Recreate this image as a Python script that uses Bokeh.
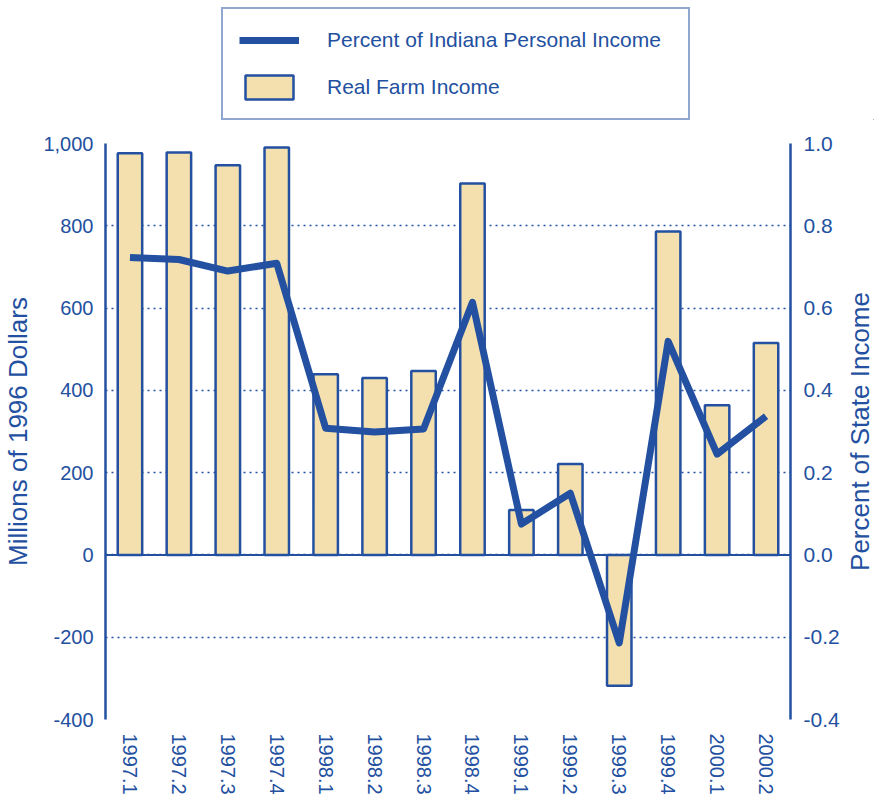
import math
from bokeh.plotting import figure
from bokeh.layouts import column, row
from bokeh.models import (Range1d, LinearAxis, FixedTicker, NumeralTickFormatter,
                          Span, Legend, LegendItem, FactorRange, Label)
from bokeh.embed import file_html
from bokeh.resources import INLINE

quarters = ["1997.1", "1997.2", "1997.3", "1997.4", "1998.1", "1998.2", "1998.3",
            "1998.4", "1999.1", "1999.2", "1999.3", "1999.4", "2000.1", "2000.2"]
farm_income = [976, 978, 947, 990, 439, 430, 447, 903, 109, 221, -318, 786, 364, 515]
pct_income = [0.723, 0.718, 0.690, 0.709, 0.308, 0.299, 0.306, 0.614, 0.075, 0.150,
              -0.214, 0.519, 0.245, 0.337]
left_ticks = [-400, -200, 0, 200, 400, 600, 800, 1000]
right_ticks = [-0.4, -0.2, 0.0, 0.2, 0.4, 0.6, 0.8, 1.0]

BLUE = "#2350A0"
FILL = "#F3E0AE"
FONT = "Liberation Sans"

# ---------------- main chart ----------------
p = figure(width=842, height=677,
           x_range=FactorRange(*quarters),
           y_range=Range1d(-400, 1000),
           output_backend="svg", toolbar_location=None,
           min_border_left=105, min_border_right=49,
           min_border_top=23, min_border_bottom=77)
p.extra_y_ranges = {"pct": Range1d(-0.4, 1.0)}
p.outline_line_color = None
p.background_fill_color = "white"
p.border_fill_color = "white"

p.xgrid.grid_line_color = None
p.ygrid.ticker = FixedTicker(ticks=left_ticks)
p.ygrid.grid_line_color = BLUE
p.ygrid.grid_line_dash = "2 4"
p.ygrid.grid_line_width = 1.5

zero = Span(location=0, dimension="width", line_color=BLUE, line_width=2, level="underlay")
p.add_layout(zero)

bars = p.vbar(x=quarters, top=farm_income, bottom=0, width=0.5,
              fill_color=FILL, line_color=BLUE, line_width=2.5)
line = p.line(x=quarters, y=pct_income, y_range_name="pct",
              line_color=BLUE, line_width=7, line_join="round")

def style_axis(ax, size="20px"):
    ax.axis_line_color = BLUE
    ax.axis_line_width = 2.5
    ax.major_tick_line_color = None
    ax.minor_tick_line_color = None
    ax.major_tick_out = 0
    ax.major_tick_in = 0
    ax.minor_tick_out = 0
    ax.minor_tick_in = 0
    ax.major_label_text_color = BLUE
    ax.major_label_text_font = FONT
    ax.major_label_text_font_size = size
    ax.axis_label_text_color = BLUE
    ax.axis_label_text_font = FONT
    ax.axis_label_text_font_style = "normal"
    ax.axis_label_text_font_size = "26px"

ly = p.yaxis[0]
style_axis(ly)
ly.ticker = FixedTicker(ticks=left_ticks)
ly.formatter = NumeralTickFormatter(format="0,0")
ly.major_label_standoff = 12
ly.axis_label = "Millions of 1996 Dollars"
ly.axis_label_standoff = 7

ry = LinearAxis(y_range_name="pct")
style_axis(ry, "21px")
ry.ticker = FixedTicker(ticks=right_ticks)
ry.formatter = NumeralTickFormatter(format="0.0")
ry.major_label_standoff = 13
p.add_layout(ry, "right")

xa = p.xaxis[0]
style_axis(xa, "20px")
xa.axis_line_color = None
xa.major_label_orientation = "vertical"
xa.major_label_standoff = 14

# ---------------- right axis title strip ----------------
rp = figure(width=32, height=677, x_range=Range1d(0, 1), y_range=Range1d(-400, 1000),
            x_axis_type=None, y_axis_type=None,
            output_backend="svg", toolbar_location=None,
            min_border_left=0, min_border_right=0,
            min_border_top=23, min_border_bottom=77)
rp.outline_line_color = None
rp.background_fill_color = "white"
rp.border_fill_color = "white"
rp.add_layout(Label(x=0.55, y=300, text="Percent of State Income",
                    angle=math.pi / 2, text_align="center", text_baseline="middle",
                    text_font=FONT, text_font_size="26px", text_color=BLUE))

# ---------------- legend strip ----------------
# The key's sample glyphs reuse the series, placed well outside this strip's view.
positions = list(range(len(quarters)))
lp = figure(width=874, height=120, x_range=Range1d(-40, -39), y_range=Range1d(5000, 6000),
            x_axis_type=None, y_axis_type=None,
            output_backend="svg", toolbar_location=None,
            min_border_left=0, min_border_right=0, min_border_top=0, min_border_bottom=0)
lp.outline_line_color = None
lp.background_fill_color = "white"
lp.border_fill_color = "white"
leg_line = lp.line(x=positions, y=pct_income, line_color=BLUE, line_width=7)
leg_bar = lp.vbar(x=positions, top=farm_income, bottom=farm_income, width=0.5,
                  fill_color=FILL, line_color=BLUE, line_width=2.5)

legend = Legend(items=[
    LegendItem(label="Percent of Indiana Personal Income", renderers=[leg_line]),
    LegendItem(label="Real Farm Income", renderers=[leg_bar]),
], location=(221, 0), orientation="vertical")
legend.border_line_color = BLUE
legend.border_line_width = 2.5
legend.background_fill_color = "white"
legend.background_fill_alpha = 1.0
legend.padding = 16
legend.spacing = 17
legend.glyph_width = 60
legend.glyph_height = 30
legend.label_standoff = 28
legend.label_width = 345
legend.label_text_font = FONT
legend.label_text_font_size = "21px"
legend.label_text_color = BLUE
legend.margin = 0
lp.add_layout(legend, "center")

layout = column(lp, row(p, rp, spacing=0), spacing=0)

open("out.html", "w").write(file_html(layout, INLINE))
